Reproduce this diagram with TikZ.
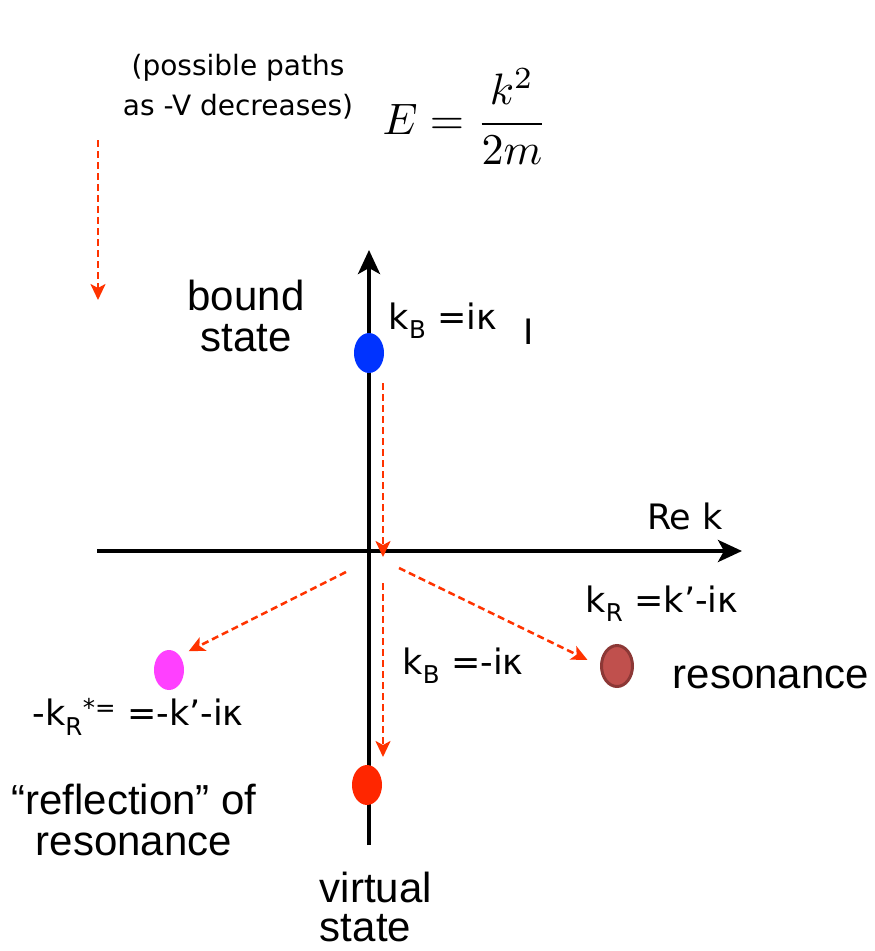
\documentclass[tikz,border=0pt]{standalone}
\usepackage{fontspec}
\setmainfont{Liberation Sans}
\newfontfamily\comicfont{DejaVu Sans}
\usetikzlibrary{arrows.meta,shapes.geometric}

\definecolor{pathred}{RGB}{255,51,0}
\definecolor{boundblue}{RGB}{0,51,255}
\definecolor{virtred}{RGB}{255,38,0}
\definecolor{reflpink}{RGB}{255,64,255}
\definecolor{resfill}{RGB}{192,80,77}
\definecolor{resedge}{RGB}{140,56,54}

\begin{document}
\begin{tikzpicture}[x=1pt,y=-1pt,
    axis/.style={line width=4pt,-{Stealth[length=24pt,width=22pt,inset=6pt]}},
    vpath/.style={pathred,line width=2.5pt,dash pattern=on 7pt off 4pt,
      -{Stealth[length=16pt,width=15pt,inset=4pt]}},
    pole/.style={ellipse,minimum width=30pt,minimum height=40pt,inner sep=0pt},
    bigtext/.style={font=\fontsize{42}{47}\selectfont,align=center},
    comictext/.style={font=\comicfont\fontsize{35}{38}\selectfont}]
  \useasboundingbox (0,0) rectangle (875,951);

  % Axes
  \coordinate (ybot) at (369,845);
  \coordinate (ytop) at (369,250);
  \coordinate (xleft) at (97,551);
  \coordinate (xright) at (742,551);
  \draw[axis] (xleft) -- (xright);
  \draw[axis] (ybot) -- (ytop);
  \node[comictext] (rek) at (685,516) {Re k};

  % Header
  \node[font=\comicfont\fontsize{28}{40}\selectfont,align=center] (note) at (238,87)
    {(possible paths\\as -V decreases)};
  \node[scale=4.4] (energy) at (465,117) {$E=\displaystyle\frac{k^2}{2m}$};

  % Poles
  \node[pole,fill=boundblue] (bound) at (369,353) {};
  \node[pole,fill=virtred] (virtual) at (367,785) {};
  \node[pole,fill=reflpink] (refl) at (169,670) {};
  \node[pole,fill=resfill,draw=resedge,line width=3pt,minimum width=31pt,minimum height=41pt] (res) at (617,666) {};

  % Labels (Helvetica-like)
  \node[bigtext] (boundlbl) at (246,316) {bound\\[-6pt]state};
  \node[bigtext] (reslbl) at (771,677) {resonance};
  \node[bigtext] (refllbl) at (134,820) {“reflection” of\\[-6pt]resonance};
  \node[bigtext,align=left] (virtlbl) at (376,907) {virtual\\[-8pt]state};

  % Labels (comic-like)
  \node[comictext] (kbound) at (443,321) {k\textsubscript{B} =iκ};
  \node[comictext] (cursor) at (529,332) {I};
  \node[comictext] (kres) at (662,604) {k\textsubscript{R} =k’-iκ};
  \node[comictext] (kvirt) at (463,666) {k\textsubscript{B} =-iκ};
  \node[comictext] (krefl) at (138,717) {-k\textsubscript{R}\textsuperscript{*=} =-k’-iκ};

  % Possible paths
  \coordinate (legA) at (98,140);
  \coordinate (legB) at (98,300);
  \coordinate (downA) at (383,383);
  \coordinate (downB) at (383,557);
  \coordinate (virtA) at (383,583);
  \coordinate (virtB) at (383,757);
  \coordinate (resA) at (399,568);
  \coordinate (refA) at (346,572);
  \draw[vpath] (legA) -- (legB);
  \draw[vpath] (downA) -- (downB);
  \draw[vpath] (virtA) -- (virtB);
  \draw[vpath,shorten >=14pt] (resA) -- (res.west);
  \draw[vpath,shorten >=10pt] (refA) -- (refl.north east);
\end{tikzpicture}
\end{document}
